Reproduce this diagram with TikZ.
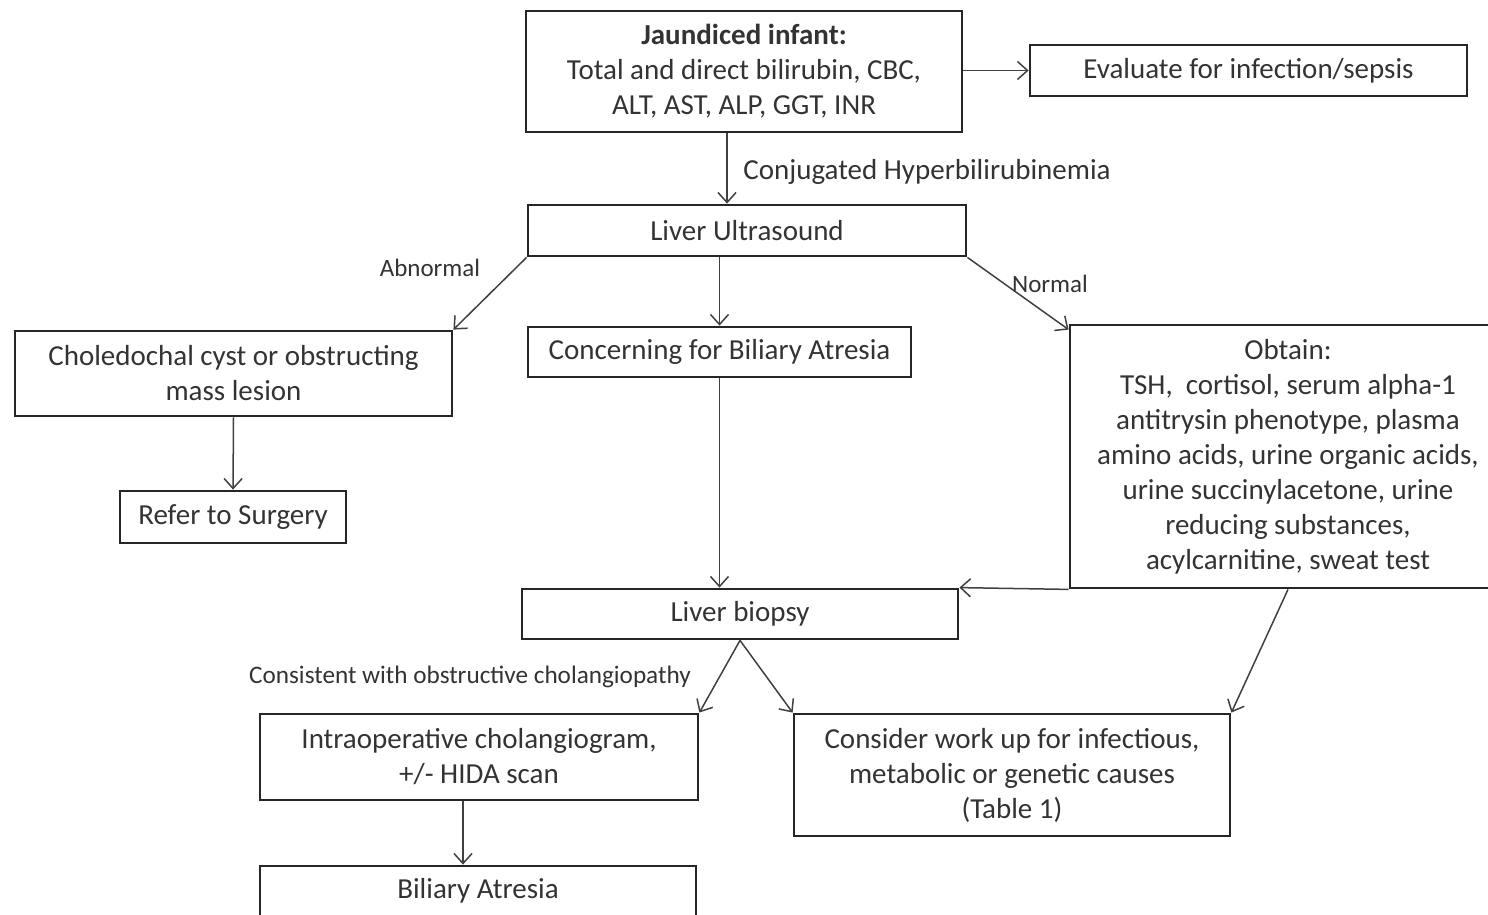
\documentclass[tikz,border=0pt]{standalone}
\usepackage{fontspec}
\setmainfont{Carlito}
\usetikzlibrary{arrows.meta,calc}
\begin{document}
\begin{tikzpicture}[x=0.5pt,y=-0.5pt,
  box/.style={draw=black!85,line width=1.4pt,inner sep=0pt,align=center,
    text=black!80,font=\fontsize{14.5}{17.5}\selectfont},
  arr/.style={draw=black!75,line width=0.75pt,-{Straight Barb[length=5pt,width=9pt]}},
  lbl/.style={text=black!80,inner sep=0pt,font=\fontsize{12.5}{14}\selectfont}]
\useasboundingbox (0,0) rectangle (1488,915);
\node[box,minimum width=218pt,minimum height=60.5pt] (J) at (744,71.5)
  {\textbf{Jaundiced infant:}\\Total and direct bilirubin, CBC,\\ALT, AST, ALP, GGT, INR};
\node[box,minimum width=218.5pt,minimum height=25.5pt] (E) at (1248.5,70.5)
  {Evaluate for infection/sepsis};
\node[box,minimum width=219pt,minimum height=25.5pt] (U) at (747,230.5)
  {Liver Ultrasound};
\node[box,minimum width=218.5pt,minimum height=42.5pt] (C) at (233.5,373.5)
  {Choledochal cyst or obstructing\\mass lesion};
\node[box,minimum width=191.5pt,minimum height=25pt] (K) at (719.5,352)
  {Concerning for Biliary Atresia};
\node[box,minimum width=218pt,minimum height=131.5pt] (O) at (1288,456.5)
  {Obtain:\\TSH,\ \ cortisol, serum alpha-1\\antitrysin phenotype, plasma\\amino acids, urine organic acids,\\urine succinylacetone, urine\\reducing substances,\\acylcarnitine, sweat test};
\node[box,minimum width=113pt,minimum height=26pt] (R) at (233,517)
  {Refer to Surgery};
\node[box,minimum width=218pt,minimum height=25pt] (B) at (740,614)
  {Liver biopsy};
\node[box,minimum width=219pt,minimum height=43pt] (I) at (479,757)
  {Intraoperative cholangiogram,\\+/- HIDA scan};
\node[box,minimum width=218pt,minimum height=61pt] (W) at (1012,775)
  {Consider work up for infectious,\\metabolic or genetic causes\\(Table 1)};
\node[box,minimum width=218pt,minimum height=25pt] (A) at (478,891)
  {Biliary Atresia};
% labels
\node[lbl,anchor=west,font=\fontsize{14.5}{16}\selectfont] (lc) at (743,172) {Conjugated Hyperbilirubinemia};
\node[lbl] (la) at (430,268) {Abnormal};
\node[lbl] (ln) at (1050,284) {Normal};
\node[lbl,font=\fontsize{12.6}{14}\selectfont] (lo) at (470,677) {Consistent with obstructive cholangiopathy};
% connectors
\draw[arr] ([xshift=-8.5pt]J.south) -- ([xshift=-8.5pt]J.south |- U.north);
\draw[arr] (J.east |- E.west) -- (E.west);
\draw[arr] (U.south west) -- (C.north east);
\draw[arr] (K.north |- U.south) -- (K.north);
\draw[arr] (U.south east) -- ([yshift=-3pt]O.north west);
\draw[arr] (C.south) -- (R.north);
\draw[arr] (K.south) -- (K.south |- B.north);
\draw[arr] (O.south west) -- (B.north east);
\draw[arr] (O.south) -- (W.north east);
\draw[arr] (B.south) -- (I.north east);
\draw[arr] (B.south) -- (W.north west);
\draw[arr] ([xshift=-8pt]I.south) -- ([xshift=-8pt]I.south |- A.north);
\end{tikzpicture}
\end{document}
